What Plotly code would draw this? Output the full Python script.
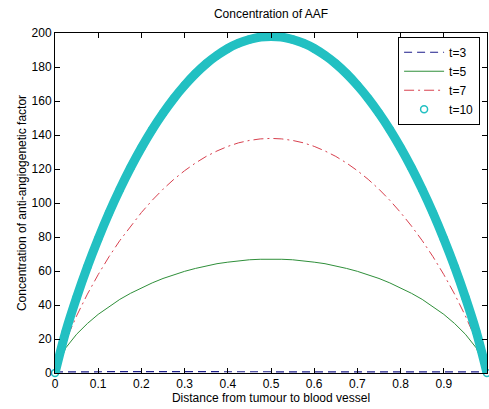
import plotly.graph_objects as go

X = [0, 0.025, 0.05, 0.075, 0.1, 0.125, 0.15, 0.175, 0.2, 0.225, 0.25, 0.275, 0.3,
     0.325, 0.35, 0.375, 0.4, 0.425, 0.45, 0.475, 0.5, 0.525, 0.55, 0.575, 0.6,
     0.625, 0.65, 0.675, 0.7, 0.725, 0.75, 0.775, 0.8, 0.825, 0.85, 0.875, 0.9,
     0.925, 0.95, 0.975, 1]

T3 = [0.6, 0.7, 0.8, 0.8, 0.8, 0.8, 0.8, 0.8, 0.8, 0.8, 0.8, 0.8, 0.8, 0.8, 0.8,
      0.8, 0.8, 0.8, 0.8, 0.8, 0.8, 0.8, 0.8, 0.8, 0.8, 0.8, 0.8, 0.8, 0.8, 0.8,
      0.8, 0.8, 0.8, 0.8, 0.8, 0.8, 0.8, 0.8, 0.8, 0.7, 0.6]

T5 = [0, 14.8, 22.8, 29.1, 34.5, 39.1, 43.3, 46.9, 50.1, 53.0, 55.6, 57.8, 59.8,
      61.5, 63.0, 64.3, 65.2, 66.0, 66.6, 66.9, 67.0, 66.9, 66.6, 66.0, 65.2,
      64.3, 63.0, 61.5, 59.8, 57.8, 55.6, 53.0, 50.1, 46.9, 43.3, 39.1, 34.5,
      29.1, 22.8, 14.8, 0]

T7 = [0, 19.1, 33.6, 46.4, 57.9, 68.4, 77.9, 86.5, 94.4, 101.6, 108.1, 113.9, 119.0,
      123.5, 127.4, 130.6, 133.3, 135.4, 136.8, 137.7, 138.0, 137.7, 136.8, 135.4,
      133.3, 130.6, 127.4, 123.5, 119.0, 113.9, 108.1, 101.6, 94.4, 86.5, 77.9,
      68.4, 57.9, 46.4, 33.6, 19.1, 0]

T10 = [0, 24.4, 44.4, 62.5, 78.9, 94.1, 108.0, 120.8, 132.5, 143.2, 152.8, 161.5,
       169.2, 176.0, 181.9, 186.8, 190.9, 194.0, 196.2, 197.6, 198.0, 197.6, 196.2,
       194.0, 190.9, 186.8, 181.9, 176.0, 169.2, 161.5, 152.8, 143.2, 132.5, 120.8,
       108.0, 94.1, 78.9, 62.5, 44.4, 24.4, 0]

X_TICKS = [0, 0.1, 0.2, 0.3, 0.4, 0.5, 0.6, 0.7, 0.8, 0.9, 1]
X_TICK_LABELS = ["0", "0.1", "0.2", "0.3", "0.4", "0.5", "0.6", "0.7", "0.8", "0.9", "1"]
Y_TICKS = [0, 20, 40, 60, 80, 100, 120, 140, 160, 180, 200]

CYAN = "#22c0c2"
FONT = "Liberation Sans, Arial, sans-serif"

fig = go.Figure()
fig.add_trace(go.Scatter(x=X, y=T3, mode="lines", name="t=3",
                         line=dict(color="#1c1c8a", width=1.2, dash="8px,5px")))
fig.add_trace(go.Scatter(x=X, y=T5, mode="lines", name="t=5",
                         line=dict(color="#2f8f3a", width=1)))
fig.add_trace(go.Scatter(x=X, y=T7, mode="lines", name="t=7",
                         line=dict(color="#d8404e", width=1, dash="10px,4px,2px,4px")))
fig.add_trace(go.Scatter(x=X, y=T10, mode="lines", showlegend=False, hoverinfo="skip",
                         line=dict(color=CYAN, width=9, shape="spline"),
                         cliponaxis=False))
fig.add_trace(go.Scatter(x=X, y=T10, mode="markers", name="t=10",
                         marker=dict(symbol="circle-open", size=7, color=CYAN,
                                     line=dict(width=1.5, color=CYAN)),
                         cliponaxis=False))

axis_common = dict(showline=True, linecolor="black", linewidth=1, mirror="ticks",
                   ticks="inside", ticklen=5, tickcolor="black", showgrid=False,
                   zeroline=False, automargin=False,
                   tickfont=dict(family=FONT, size=12, color="black"))

fig.update_layout(
    template="none",
    width=489, height=409,
    margin=dict(l=55, r=2, t=33, b=36),
    paper_bgcolor="white", plot_bgcolor="white",
    font=dict(family=FONT, size=12, color="black"),
    title=dict(text="Concentration of AAF", x=0.5, xref="paper", xanchor="center",
               y=1 - 14 / 409, yref="container", yanchor="middle",
               font=dict(size=12, color="black")),
    xaxis=dict(range=[0, 1], tickvals=X_TICKS, ticktext=X_TICK_LABELS,
               title=dict(text="Distance from tumour to blood vessel", standoff=2,
                          font=dict(size=12)),
               **axis_common),
    yaxis=dict(range=[0, 200], tickvals=Y_TICKS,
               title=dict(text="Concentration of anti-angiogenetic factor", standoff=2,
                          font=dict(size=12)),
               **axis_common),
    legend=dict(x=0.984, y=0.989, xanchor="right", yanchor="top",
                bgcolor="white", bordercolor="black", borderwidth=1,
                font=dict(size=12, color="black"), tracegroupgap=0, itemwidth=40),
    showlegend=True,
)

fig.write_html("out.html", config={"displayModeBar": False},
               post_script="document.body.style.margin='0';document.body.style.overflow='hidden';")
